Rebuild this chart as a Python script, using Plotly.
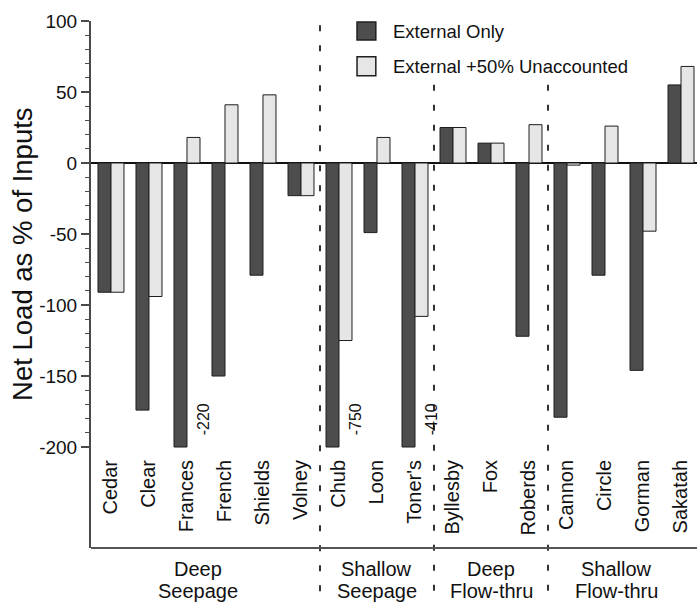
import plotly.graph_objects as go

# ---- data -------------------------------------------------------------
lakes = ["Cedar", "Clear", "Frances", "French", "Shields", "Volney",
         "Chub", "Loon", "Toner's",
         "Byllesby", "Fox", "Roberds",
         "Cannon", "Circle", "Gorman", "Sakatah"]
groups = ["Deep Seepage", "Shallow Seepage", "Deep Flow-thru", "Shallow Flow-thru"]
group_sizes = [6, 3, 3, 4]

series_names = ["External Only", "External +50% Unaccounted"]
external_only = [-91, -174, -220, -150, -79, -23,
                 -750, -49, -410,
                 25, 14, -122,
                 -179, -79, -146, 55]
external_plus50 = [-91, -94, 18, 41, 48, -23,
                   -125, 18, -108,
                   25, 14, 27,
                   -1.5, 26, -48, 68]

y_ticks = [-200, -150, -100, -50, 0, 50, 100]
y_title = "Net Load as % of Inputs"

# ---- styling ----------------------------------------------------------
FONT = "Liberation Sans, Arial, Helvetica, sans-serif"
DARK = "#4d4d4d"
LIGHT = "#e6e6e6"
EDGE = "#1e1e1e"
AXIS = "#4a4a4a"
FLOOR = -200                      # bars are cut off at the lowest labelled tick
X0, X1 = -0.526, 15.421
Y0, Y1 = -271.1, 100


def clip(vals):
    return [max(v, FLOOR) for v in vals]


fig = go.Figure()
for name, vals, color in [(series_names[0], external_only, DARK),
                          (series_names[1], external_plus50, LIGHT)]:
    fig.add_trace(go.Bar(
        x=lakes, y=clip(vals), name=name,
        marker=dict(color=color, line=dict(color=EDGE, width=1)),
        showlegend=False, hoverinfo="x+y",
    ))

annotations = []
shapes = []

# true value written beside every bar that runs past the floor
for i, (lake, v) in enumerate(zip(lakes, external_only)):
    if v < FLOOR:
        annotations.append(dict(
            x=i + 0.44, y=-168, xref="x", yref="y", text=str(v),
            textangle=-90, showarrow=False, xanchor="center", yanchor="top",
            font=dict(size=16, color="#111", family=FONT)))


def to_paper_x(v):
    return (v - X0) / (X1 - X0)


# dashed separators between lake groups
bounds = []
start = 0
for n in group_sizes[:-1]:
    start += n
    bounds.append(start - 0.5)
tops = [0.992, 0.879, 0.879]
for b, top in zip(bounds, tops):
    shapes.append(dict(type="line", xref="paper", yref="paper",
                       x0=to_paper_x(b), x1=to_paper_x(b), y0=top, y1=-0.103,
                       line=dict(color="#333", width=2, dash="6px,14px")))

# bottom frame line
shapes.append(dict(type="line", xref="paper", yref="paper", x0=0, x1=1, y0=0, y1=0,
                   line=dict(color="#555", width=2)))

# group names under the frame
group_label_x = [2.3, 7.0, 10.0, 13.3]
for gx, g in zip(group_label_x, groups):
    first, second = g.split(" ", 1)
    for txt, yy in [(first, -0.04), (second, -0.082)]:
        annotations.append(dict(
            x=gx, y=yy, xref="x", yref="paper", text=txt, showarrow=False,
            xanchor="center", yanchor="middle",
            font=dict(size=20, color="#111", family=FONT)))

# legend keys
key_rows = [(0.998, 0.964, 0.981), (0.932, 0.896, 0.914)]
for (ya, yb, yc), name, color in zip(key_rows, series_names, [DARK, LIGHT]):
    shapes.append(dict(type="rect", xref="paper", yref="paper",
                       x0=0.439, x1=0.470, y0=yb, y1=ya,
                       fillcolor=color, line=dict(color=EDGE, width=1.5)))
    annotations.append(dict(
        x=0.495, y=yc, xref="paper", yref="paper", text=name, showarrow=False,
        xanchor="left", yanchor="middle",
        font=dict(size=18.5, color="#111", family=FONT)))

# y-axis title
annotations.append(dict(
    x=-0.1122, y=0.558, xref="paper", yref="paper", text=y_title,
    textangle=-90, showarrow=False, xanchor="center", yanchor="middle",
    font=dict(size=27.5, color="#111", family=FONT)))

minor_vals = [v for v in range(y_ticks[0], y_ticks[-1], 10) if v % 50 != 0]

fig.update_layout(
    width=697, height=602,
    margin=dict(l=91, r=0, t=21, b=54),
    paper_bgcolor="white", plot_bgcolor="white",
    barmode="group", bargap=0.316, bargroupgap=0,
    showlegend=False,
    font=dict(family=FONT, color="#111"),
    shapes=shapes, annotations=annotations,
    xaxis=dict(
        range=[X0, X1], anchor="free", position=0.1765,
        showline=False, ticks="", tickangle=-90, showgrid=False, zeroline=False,
        tickfont=dict(size=20, family=FONT, color="#111"),
    ),
    yaxis=dict(
        range=[Y0, Y1], showline=True, linecolor=AXIS, linewidth=2,
        ticks="outside", ticklen=8, tickwidth=1.5, tickcolor=AXIS,
        tickmode="array", tickvals=y_ticks,
        ticktext=[str(v) for v in y_ticks], showgrid=False,
        tickfont=dict(size=19, family=FONT, color="#111"),
        minor=dict(tickmode="array", tickvals=minor_vals, ticks="outside",
                   ticklen=4, tickwidth=1, tickcolor=AXIS),
        zeroline=True, zerolinecolor="#111", zerolinewidth=2,
    ),
)

fig.write_html("out.html")
